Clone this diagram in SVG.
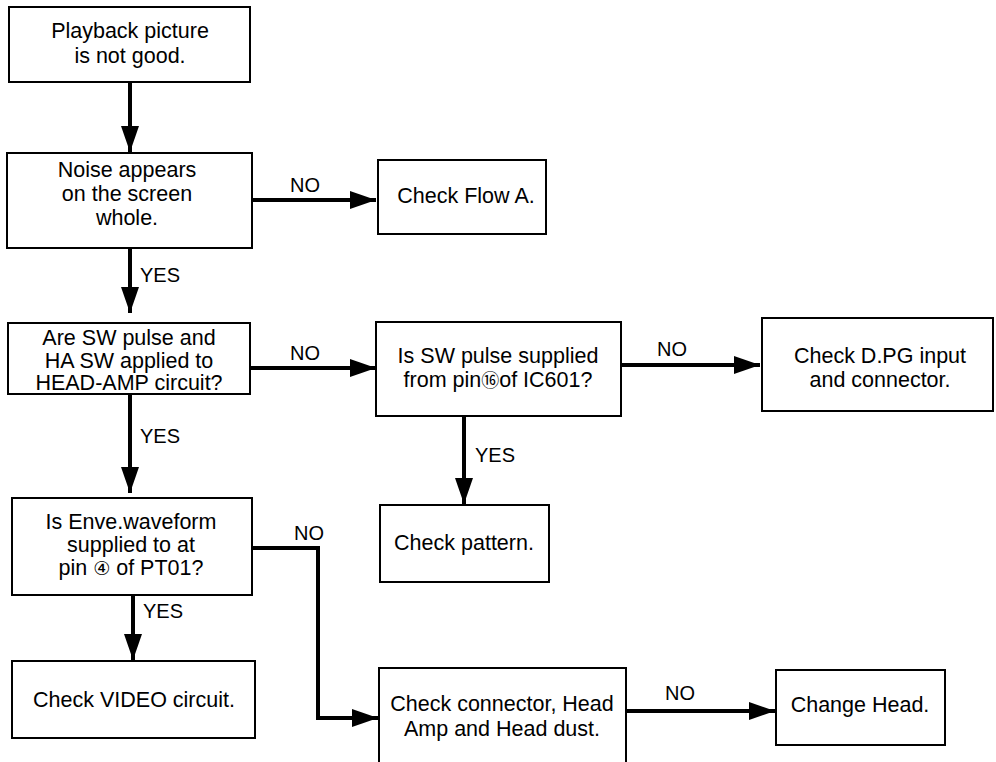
<svg xmlns="http://www.w3.org/2000/svg" width="996" height="762" viewBox="0 0 996 762">
<defs>
<style>
.box{fill:#fff;stroke:#000;stroke-width:2}
.t{font-family:"Liberation Sans","DejaVu Sans","Noto Sans CJK JP",sans-serif;font-size:21.5px;fill:#000;text-anchor:middle}
.l{font-family:"Liberation Sans",sans-serif;font-size:20px;fill:#000}
.c{fill:none;stroke:#000;stroke-width:4;marker-end:url(#ah)}
</style>
<marker id="ah" markerUnits="userSpaceOnUse" markerWidth="26" markerHeight="18" refX="26" refY="9" orient="auto">
<path d="M0,0 L26,9 L0,18 z" fill="#000"/>
</marker>
</defs>
<rect width="996" height="762" fill="#fff"/>
<g id="connectors">
<path class="c" d="M130,82 V152"/>
<path class="c" d="M252,200 H376"/>
<path class="c" d="M130,248 V313"/>
<path class="c" d="M250,368 H376"/>
<path class="c" d="M621,365 H760"/>
<path class="c" d="M464,416 V504"/>
<path class="c" d="M130,394 V493"/>
<path class="c" d="M252,548 H318 V718 H378"/>
<path class="c" d="M133,595 V660"/>
<path class="c" d="M626,711 H775"/>
<text class="l" x="290" y="192">NO</text>
<text class="l" x="140" y="282">YES</text>
<text class="l" x="290" y="360">NO</text>
<text class="l" x="657" y="356">NO</text>
<text class="l" x="475" y="462">YES</text>
<text class="l" x="140" y="443">YES</text>
<text class="l" x="294" y="540">NO</text>
<text class="l" x="143" y="618">YES</text>
<text class="l" x="665" y="700">NO</text>
</g>
<g id="n1"><rect class="box" x="9" y="7" width="241" height="75"/>
<text class="t" x="130" y="38">Playback picture</text><text class="t" x="130" y="63">is not good.</text></g>
<g id="n2"><rect class="box" x="7" y="153" width="245" height="95"/>
<text class="t" x="127" y="177">Noise appears</text><text class="t" x="127" y="201">on the screen</text><text class="t" x="127" y="225">whole.</text></g>
<g id="n3"><rect class="box" x="378" y="160" width="168" height="74"/>
<text class="t" x="466" y="203">Check Flow A.</text></g>
<g id="n4"><rect class="box" x="8" y="323" width="242" height="71"/>
<text class="t" x="129" y="345">Are SW pulse and</text><text class="t" x="129" y="368">HA SW applied to</text><text class="t" x="129" y="390">HEAD-AMP circuit?</text></g>
<g id="n5"><rect class="box" x="376" y="322" width="245" height="94"/>
<text class="t" x="498" y="363">Is SW pulse supplied</text><text class="t" x="498" y="387">from pin<tspan font-size="18">⑯</tspan>of IC601?</text></g>
<g id="n6"><rect class="box" x="762" y="318" width="231" height="93"/>
<text class="t" x="880" y="363">Check D.PG input</text><text class="t" x="880" y="387">and connector.</text></g>
<g id="n7"><rect class="box" x="380" y="505" width="169" height="77"/>
<text class="t" x="464" y="550">Check pattern.</text></g>
<g id="n8"><rect class="box" x="12" y="498" width="240" height="97"/>
<text class="t" x="131" y="529">Is Enve.waveform</text><text class="t" x="131" y="552">supplied to at</text><text class="t" x="131" y="575">pin <tspan font-size="19">④</tspan> of PT01?</text></g>
<g id="n9"><rect class="box" x="12" y="661" width="243" height="77"/>
<text class="t" x="134" y="707">Check VIDEO circuit.</text></g>
<g id="n10"><rect class="box" x="379" y="668" width="247" height="100"/>
<text class="t" x="502" y="711">Check connector, Head</text><text class="t" x="502" y="736">Amp and Head dust.</text></g>
<g id="n11"><rect class="box" x="776" y="670" width="169" height="75"/>
<text class="t" x="860" y="712">Change Head.</text></g>
</svg>
